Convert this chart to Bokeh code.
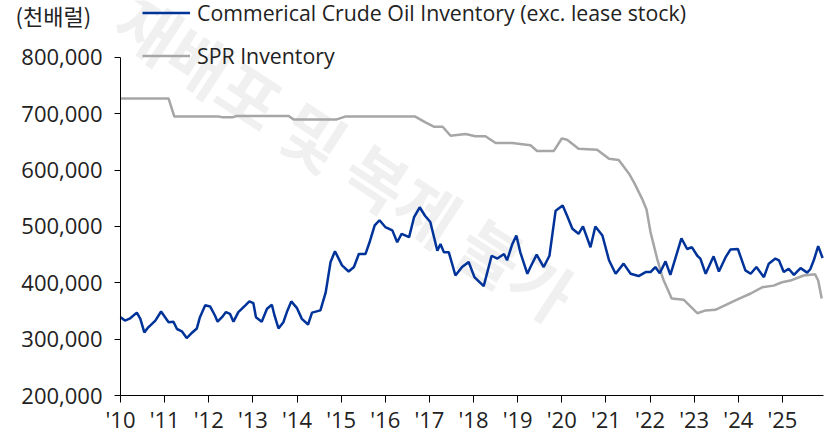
from bokeh.plotting import figure
from bokeh.models import (ColumnDataSource, FixedTicker, NumeralTickFormatter,
                          Legend, LegendItem, Label, Range1d)
from bokeh.embed import file_html
from bokeh.resources import INLINE

# ---------------- data (thousand barrels) ----------------
comm_x = [2010.00, 2010.10, 2010.22, 2010.37, 2010.45, 2010.54, 2010.63, 2010.79, 2010.92,
          2011.01, 2011.09, 2011.20, 2011.28, 2011.39, 2011.50, 2011.60, 2011.73, 2011.80, 2011.92,
          2012.03, 2012.14, 2012.20, 2012.30, 2012.39, 2012.48, 2012.56, 2012.67, 2012.83, 2012.92,
          2013.01, 2013.07, 2013.20, 2013.32, 2013.43, 2013.49, 2013.58, 2013.69, 2013.77, 2013.87,
          2014.00, 2014.11, 2014.25, 2014.34, 2014.53, 2014.65, 2014.76, 2014.86,
          2015.02, 2015.17, 2015.29, 2015.40, 2015.55, 2015.64, 2015.76, 2015.87,
          2016.00, 2016.16, 2016.27, 2016.37, 2016.54, 2016.65, 2016.78, 2016.90,
          2017.02, 2017.18, 2017.25, 2017.33, 2017.44, 2017.59, 2017.74, 2017.89,
          2018.02, 2018.23, 2018.41, 2018.54, 2018.69, 2018.76, 2018.88, 2018.97,
          2019.06, 2019.22, 2019.29, 2019.43, 2019.59, 2019.72, 2019.86,
          2020.02, 2020.12, 2020.24, 2020.38, 2020.48, 2020.65, 2020.76, 2020.92,
          2021.07, 2021.22, 2021.40, 2021.56, 2021.74, 2021.90,
          2022.01, 2022.12, 2022.22, 2022.35, 2022.46, 2022.58, 2022.71, 2022.84, 2022.95,
          2023.07, 2023.14, 2023.26, 2023.44, 2023.56, 2023.71, 2023.82, 2023.99,
          2024.16, 2024.28, 2024.41, 2024.58, 2024.69, 2024.84, 2024.92,
          2025.03, 2025.14, 2025.26, 2025.41, 2025.56, 2025.63, 2025.71, 2025.81, 2025.91]
comm_v = [339000, 333000, 337000, 347000, 336000, 312000, 321000, 333000, 349000,
          339000, 330000, 331000, 318000, 314000, 302000, 310000, 319000, 339000, 360000,
          358000, 342000, 331000, 339000, 348000, 345000, 331000, 348000, 360000, 367000,
          364000, 339000, 331000, 354000, 361000, 342000, 319000, 330000, 348000, 367000,
          355000, 336000, 326000, 347000, 351000, 383000, 437000, 456000,
          431000, 420000, 428000, 451000, 451000, 471000, 502000, 511000,
          499000, 493000, 472000, 487000, 481000, 516000, 534000, 519000,
          508000, 457000, 469000, 454000, 454000, 413000, 428000, 437000,
          410000, 394000, 448000, 443000, 451000, 440000, 469000, 484000,
          454000, 416000, 428000, 450000, 428000, 448000, 528000,
          537000, 519000, 496000, 487000, 500000, 463000, 500000, 484000,
          440000, 416000, 434000, 416000, 412000, 419000,
          419000, 428000, 417000, 438000, 414000, 445000, 479000, 460000, 463000,
          448000, 443000, 416000, 447000, 420000, 445000, 459000, 460000,
          422000, 416000, 428000, 410000, 434000, 443000, 440000,
          419000, 425000, 414000, 426000, 418000, 424000, 440000, 465000, 444000]

spr_x = [2010.00, 2011.09, 2011.22, 2012.22, 2012.30, 2012.55, 2012.63, 2013.81, 2013.92,
         2014.90, 2015.09, 2016.68, 2016.90, 2017.10, 2017.30, 2017.48, 2017.82, 2018.04,
         2018.27, 2018.50, 2018.88, 2019.29, 2019.44, 2019.82, 2020.00, 2020.12, 2020.38,
         2020.80, 2021.07, 2021.29, 2021.52, 2021.65, 2021.82, 2021.92, 2022.01, 2022.16,
         2022.27, 2022.31, 2022.49, 2022.76, 2023.07, 2023.26, 2023.48, 2023.97, 2024.28,
         2024.54, 2024.80, 2024.99, 2025.18, 2025.48, 2025.74, 2025.81, 2025.89]
spr_v = [727000, 727000, 695000, 695000, 694000, 694000, 696000, 696000, 690000,
         690000, 695000, 695000, 685000, 677000, 677000, 661000, 664000, 660000,
         660000, 648000, 648000, 644000, 634000, 634000, 656000, 654000, 638000,
         636000, 620000, 618000, 594000, 576000, 549000, 530000, 490000, 443000,
         413000, 404000, 372000, 370000, 346000, 351000, 352000, 370000, 381000,
         392000, 395000, 401000, 404000, 413000, 415000, 404000, 372000]

year_ticks = [2010, 2011, 2012, 2013, 2014, 2015, 2016, 2017, 2018, 2019, 2020, 2021, 2022, 2023, 2024, 2025]
year_labels = ["'10", "'11", "'12", "'13", "'14", "'15", "'16", "'17", "'18", "'19", "'20", "'21",
               "'22", "'23", "'24", "'25"]
y_ticks = [200000, 300000, 400000, 500000, 600000, 700000, 800000]

label_comm = "Commerical Crude Oil Inventory (exc. lease stock)"
label_spr = "SPR Inventory"
unit_text = "(천배럴)"
watermark = "재배포 및 복제 불가"

# ---------------- figure ----------------
FONT = "Open Sans"
TXT = "#222222"
BLUE = "#003399"
GRAY = "#a6a6a6"

W, H = 830, 432
X0_PX, PX_PER_YEAR = 120.0, 44.13          # pixel of '10 tick, pixels per year
Y0_PX, VAL_PER_PX = 395.0, 1774.6          # pixel of 200,000, values per pixel

x_start = 2010 - X0_PX / PX_PER_YEAR
x_end = 2010 + (W - X0_PX) / PX_PER_YEAR
y_start = 200000 - (H - Y0_PX) * VAL_PER_PX
y_end = 200000 + Y0_PX * VAL_PER_PX

p = figure(width=W, height=H, output_backend="svg", toolbar_location=None,
           x_range=Range1d(x_start, x_end), y_range=Range1d(y_start, y_end),
           min_border_left=0, min_border_right=0, min_border_top=0, min_border_bottom=0)
p.background_fill_color = "white"
p.border_fill_color = "white"
p.outline_line_color = None
p.xgrid.visible = False
p.ygrid.visible = False

wm = Label(x=2015.12, y=626000, text=watermark, angle=-0.58, text_align="center",
           text_baseline="middle", text_font="Noto Sans CJK KR", text_font_style="bold",
           text_font_size="66px", text_color="#f0f0f0", level="underlay")
p.add_layout(wm)

src_c = ColumnDataSource(dict(x=comm_x, y=comm_v))
src_s = ColumnDataSource(dict(x=spr_x, y=spr_v))
r_s = p.line("x", "y", source=src_s, line_color=GRAY, line_width=2.5)
r_c = p.line("x", "y", source=src_c, line_color=BLUE, line_width=2.5)

for ax in (p.xaxis[0], p.yaxis[0]):
    ax.axis_line_color = "black"
    ax.axis_line_width = 1
    ax.major_tick_line_color = "black"
    ax.major_tick_in = 0
    ax.minor_tick_line_color = None
    ax.major_label_text_font = FONT
    ax.major_label_text_font_size = "22px"
    ax.major_label_text_color = TXT

p.yaxis[0].ticker = FixedTicker(ticks=y_ticks)
p.yaxis[0].formatter = NumeralTickFormatter(format="0,0")
p.yaxis[0].major_tick_out = 6
p.yaxis[0].major_label_standoff = 12
p.yaxis[0].bounds = (200000, 800000)
p.yaxis[0].fixed_location = 2010

p.xaxis[0].ticker = FixedTicker(ticks=year_ticks)
p.xaxis[0].major_label_overrides = {t: l for t, l in zip(year_ticks, year_labels)}
p.xaxis[0].major_tick_out = 7
p.xaxis[0].major_label_standoff = 1
p.xaxis[0].bounds = (2010, 2025.92)
p.xaxis[0].fixed_location = 200000

legend = Legend(items=[LegendItem(label=label_comm, renderers=[r_c]),
                       LegendItem(label=label_spr, renderers=[r_s])],
                location=(142, 362), orientation="vertical",
                background_fill_alpha=0, border_line_color=None,
                padding=0, margin=0, spacing=14, glyph_width=48, glyph_height=21,
                label_height=21, label_standoff=7,
                label_text_font=FONT, label_text_font_size="21.3px", label_text_color=TXT)
p.add_layout(legend)

unit = Label(x=15, y=H - 14, x_units="screen", y_units="screen", text=unit_text,
             text_font="Noto Sans CJK KR", text_font_size="22px", text_color=TXT,
             text_baseline="middle", text_align="left")
p.add_layout(unit)

open("out.html", "w").write(file_html(p, INLINE))
